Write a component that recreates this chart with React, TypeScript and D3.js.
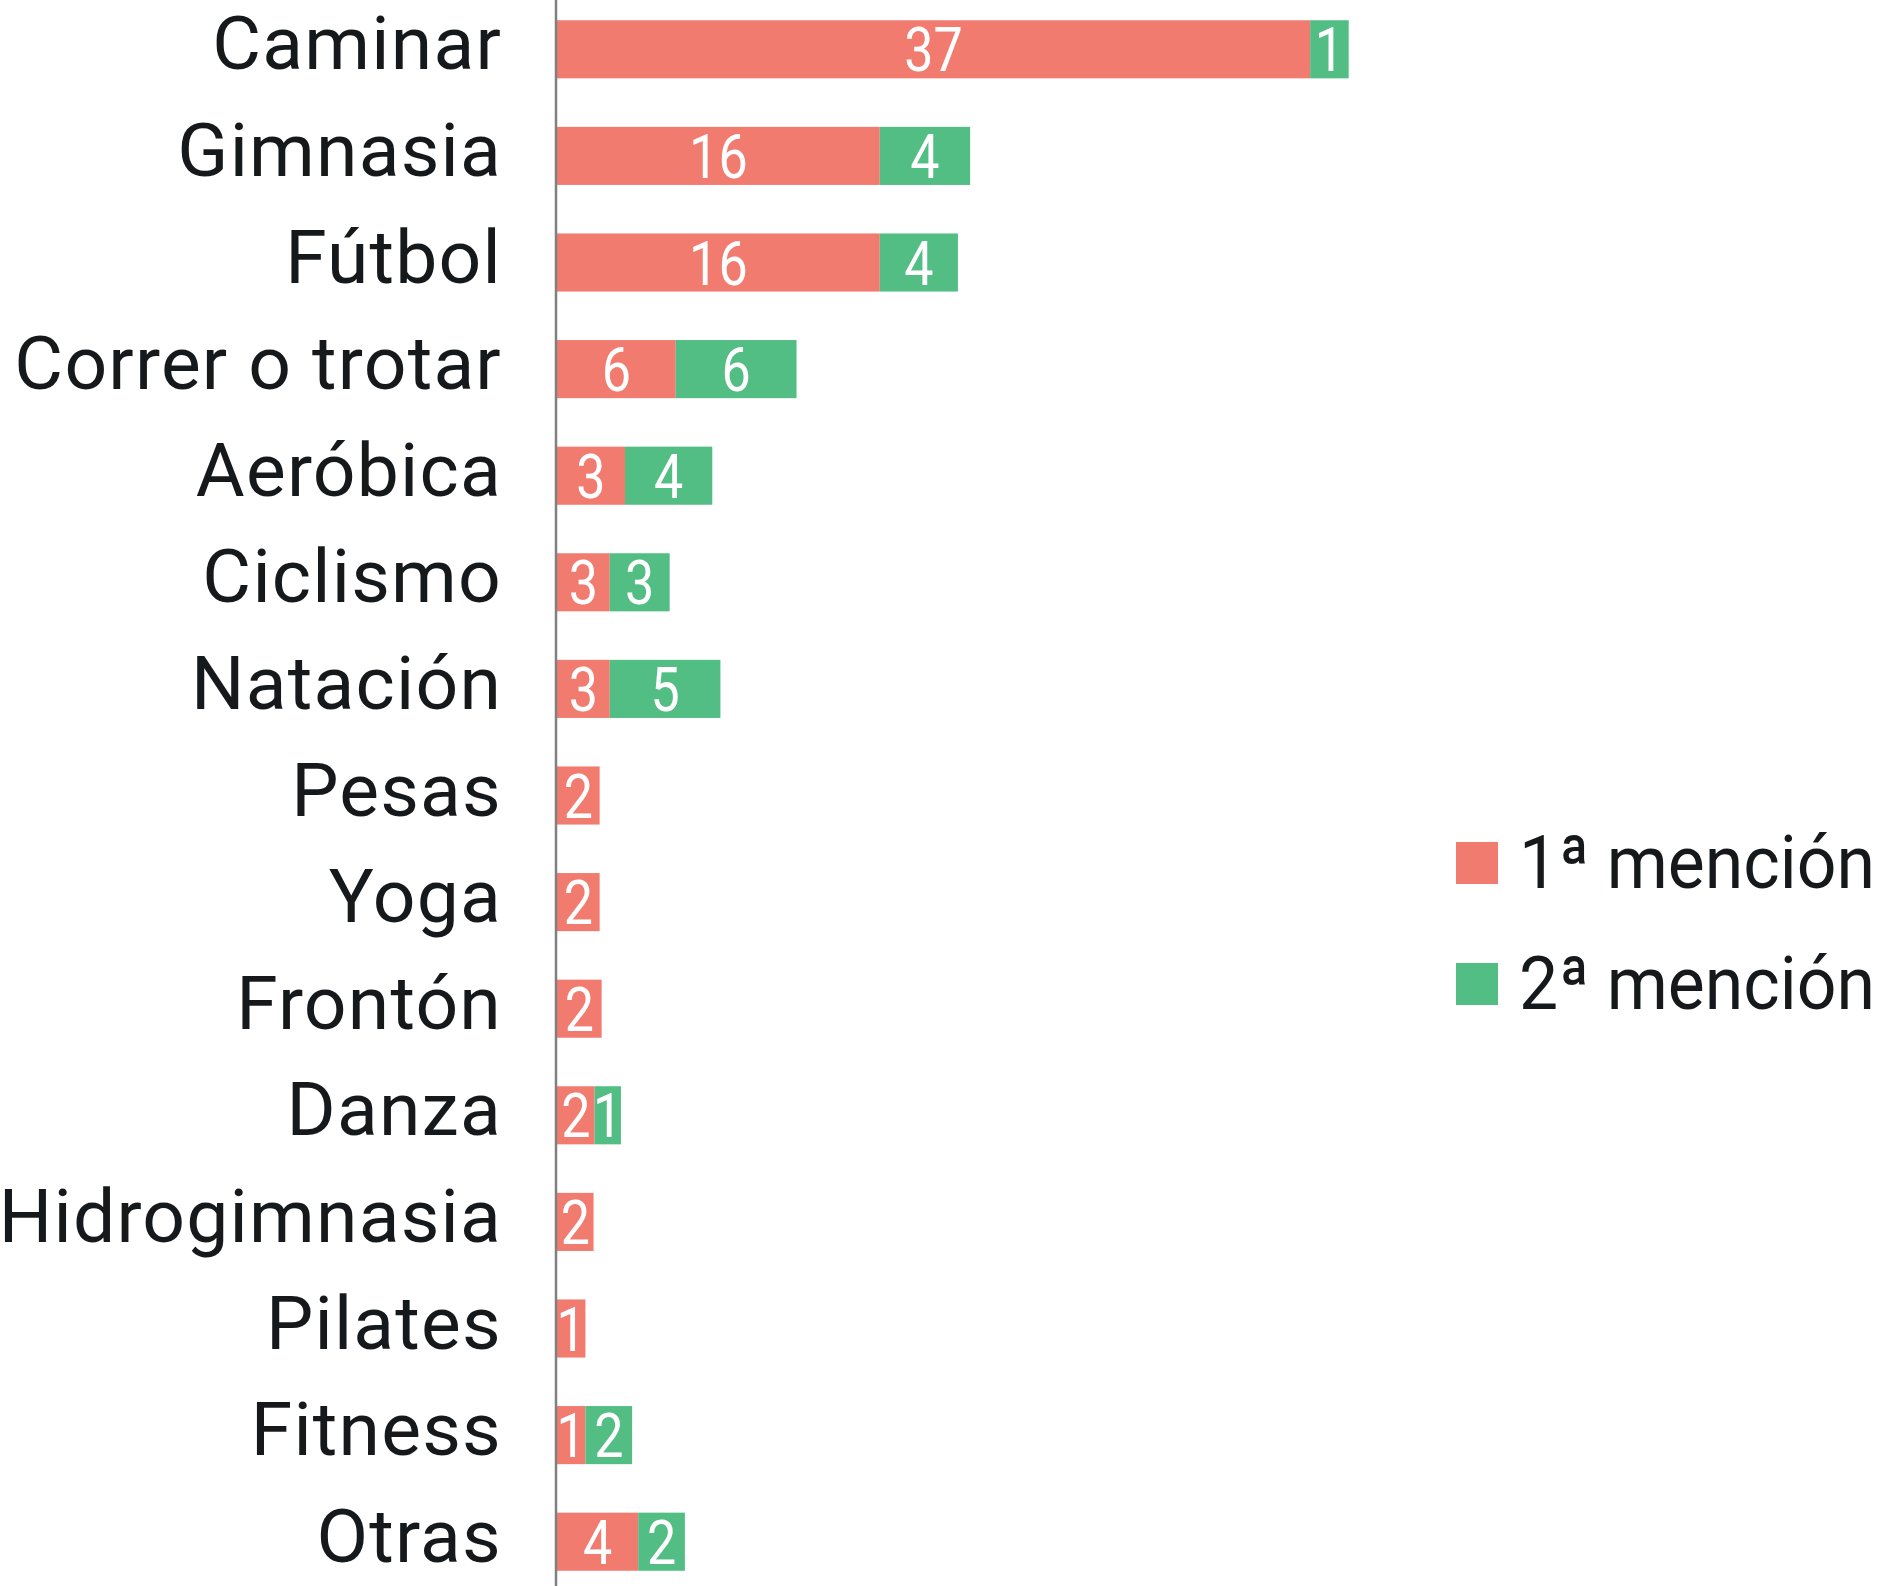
import React from 'react';
import * as d3 from 'd3';

const categories = ['Caminar', 'Gimnasia', 'Fútbol', 'Correr o trotar', 'Aeróbica', 'Ciclismo', 'Natación', 'Pesas', 'Yoga', 'Frontón', 'Danza', 'Hidrogimnasia', 'Pilates', 'Fitness', 'Otras'];
const primera = [37.1, 15.9, 15.9, 5.85, 3.35, 2.6, 2.6, 2.1, 2.1, 2.2, 1.85, 1.8, 1.4, 1.4, 4.0];
const segunda = [1.9, 4.45, 3.85, 5.95, 4.3, 2.95, 5.45, 0, 0, 0, 1.3, 0, 0, 2.3, 2.3];
const primeraLabels = ['37', '16', '16', '6', '3', '3', '3', '2', '2', '2', '2', '2', '1', '1', '4'];
const segundaLabels = ['1', '4', '4', '6', '4', '3', '5', '', '', '', '1', '', '', '2', '2'];
const series = ['1ª mención', '2ª mención'];
const colors = ['#F27B70', '#52BE84'];

const W = 1896;
const H = 1586;
const FONT = 'Roboto, "DejaVu Sans", sans-serif';

export default function App() {
    const rows = categories.map((c, i) => ({cat: c, a: primera[i], b: segunda[i], la: primeraLabels[i], lb: segundaLabels[i]}));

    const x = d3.scaleLinear().domain([0, 40]).range([557, 557 + 40 * 20.3]);
    const y = d3.scaleBand().domain(categories).range([-4, 1595]).paddingInner(0.455).paddingOuter(0.2275);

    const stacked = d3.stack().keys(['a', 'b'])(rows as any);
    const labelKeys = ['la', 'lb'];

    return (
        <svg width={W} height={H} style={{position: 'absolute', left: 0, top: 0, background: '#fff'}}>
            {stacked.map((layer, si) => (
                <g key={layer.key} fill={colors[si]}>
                    {layer.map((d, i) => {
                        const w = x(d[1]) - x(d[0]);
                        if (w <= 0) return null;
                        return <rect key={i} x={x(d[0])} y={y(categories[i])} width={w} height={y.bandwidth()}/>;
                    })}
                </g>
            ))}

            {stacked.map((layer, si) => (
                <g key={'t' + layer.key} fill="#fff" fontFamily={FONT} fontSize={62} textAnchor="middle">
                    {layer.map((d, i) => {
                        const label = (rows[i] as any)[labelKeys[si]];
                        if (!label) return null;
                        const cx = (x(d[0]) + x(d[1])) / 2;
                        const cy = (y(categories[i]) as number) + y.bandwidth() / 2 + 22;
                        return (
                            <text key={i} transform={`translate(${cx},${cy}) scale(0.84,1)`}>{label}</text>
                        );
                    })}
                </g>
            ))}

            <line x1={556} x2={556} y1={0} y2={H} stroke="#808080" strokeWidth={2.5}/>

            <g fontFamily={FONT} fontSize={75} fill="#16191c" textAnchor="end" letterSpacing={1.2}>
                {categories.map(c => (
                    <text key={c} x={502} y={(y(c) as number) + y.bandwidth() / 2 + 20}>{c}</text>
                ))}
            </g>

            <g fontFamily={FONT} fontSize={75} fill="#16191c">
                {series.map((s, i) => (
                    <g key={s} transform={`translate(1456,${842 + i * 121})`}>
                        <rect width={42} height={42} fill={colors[i]}/>
                        <text transform="translate(63,46) scale(0.93,1)">{s}</text>
                    </g>
                ))}
            </g>
        </svg>
    );
}
